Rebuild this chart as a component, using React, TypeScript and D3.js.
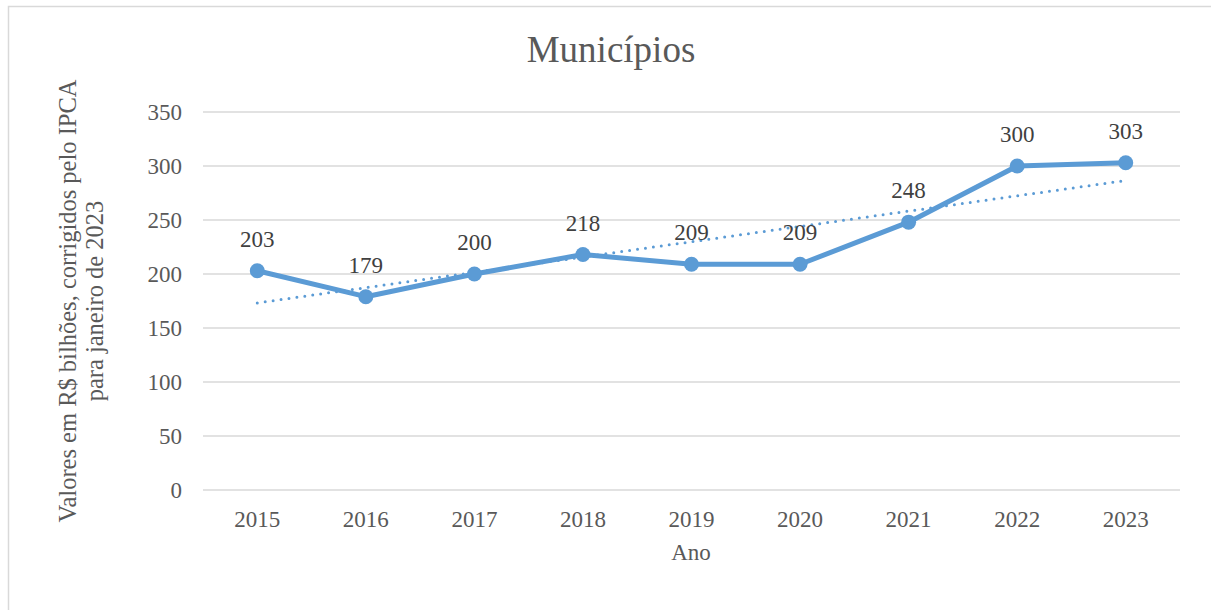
import React, { useRef, useEffect } from "react";
import * as d3 from "d3";

const years = ["2015", "2016", "2017", "2018", "2019", "2020", "2021", "2022", "2023"];
const values = [203, 179, 200, 218, 209, 209, 248, 300, 303];
const yTicks = [0, 50, 100, 150, 200, 250, 300, 350];

const chartTitle = "Municípios";
const xTitle = "Ano";
const yTitleLines = ["Valores em R$ bilhões, corrigidos pelo IPCA", "para janeiro de 2023"];

const App = () => {
  const container = useRef<SVGSVGElement | null>(null);

  useEffect(() => {
    const width = 1211;
    const height = 610;
    const plot = { l: 203, r: 1180, t: 112, b: 490 };
    const font = "'Liberation Serif', 'Times New Roman', serif";
    const blue = "#5B9BD5";

    const svg = d3.select(container.current);
    svg.selectAll("*").remove();
    svg.attr("width", width).attr("height", height);

    svg
      .append("rect")
      .attr("x", 8.5)
      .attr("y", 6.5)
      .attr("width", width + 10)
      .attr("height", height + 10)
      .attr("fill", "white")
      .attr("stroke", "#d9d9d9")
      .attr("stroke-width", 1.5);

    const x = d3.scaleBand().domain(years).range([plot.l, plot.r]);
    const y = d3.scaleLinear().domain([0, 350]).range([plot.b, plot.t]);
    const cx = (i: number) => (x(years[i]) as number) + x.bandwidth() / 2;

    // gridlines
    svg
      .append("g")
      .selectAll("line")
      .data(yTicks)
      .join("line")
      .attr("x1", plot.l)
      .attr("x2", plot.r)
      .attr("y1", (d) => y(d))
      .attr("y2", (d) => y(d))
      .attr("stroke", "#d9d9d9")
      .attr("stroke-width", 1.5);

    // y tick labels
    svg
      .append("g")
      .selectAll("text")
      .data(yTicks)
      .join("text")
      .attr("x", 182)
      .attr("y", (d) => y(d))
      .attr("dy", "0.35em")
      .attr("text-anchor", "end")
      .attr("font-family", font)
      .attr("font-size", 23)
      .attr("fill", "#595959")
      .text((d) => d);

    // x tick labels
    svg
      .append("g")
      .selectAll("text")
      .data(years)
      .join("text")
      .attr("x", (d, i) => cx(i))
      .attr("y", 527)
      .attr("text-anchor", "middle")
      .attr("font-family", font)
      .attr("font-size", 23)
      .attr("fill", "#595959")
      .text((d) => d);

    // trend line (linear least squares)
    const n = values.length;
    const mx = d3.mean(values.map((_, i) => i)) as number;
    const my = d3.mean(values) as number;
    const sxy = d3.sum(values, (v, i) => (i - mx) * (v - my));
    const sxx = d3.sum(values, (_, i) => (i - mx) * (i - mx));
    const slope = sxy / sxx;
    const icpt = my - slope * mx;
    const trend = [0, n - 1].map((i) => [cx(i), y(icpt + slope * i)] as [number, number]);

    svg
      .append("path")
      .attr("d", d3.line()(trend))
      .attr("fill", "none")
      .attr("stroke", blue)
      .attr("stroke-width", 3)
      .attr("stroke-linecap", "round")
      .attr("stroke-dasharray", "0 8");

    // data line
    const pts = values.map((v, i) => [cx(i), y(v)] as [number, number]);
    svg
      .append("path")
      .attr("d", d3.line()(pts))
      .attr("fill", "none")
      .attr("stroke", blue)
      .attr("stroke-width", 5)
      .attr("stroke-linejoin", "round");

    svg
      .append("g")
      .selectAll("circle")
      .data(pts)
      .join("circle")
      .attr("cx", (d) => d[0])
      .attr("cy", (d) => d[1])
      .attr("r", 7.5)
      .attr("fill", blue);

    // data labels
    svg
      .append("g")
      .selectAll("text")
      .data(values)
      .join("text")
      .attr("x", (d, i) => cx(i))
      .attr("y", (d) => y(d) - 24)
      .attr("text-anchor", "middle")
      .attr("font-family", font)
      .attr("font-size", 23)
      .attr("fill", "#404040")
      .text((d) => d);

    // title
    svg
      .append("text")
      .attr("x", 611)
      .attr("y", 62)
      .attr("text-anchor", "middle")
      .attr("font-family", font)
      .attr("font-size", 37)
      .attr("fill", "#595959")
      .text(chartTitle);

    // x axis title
    svg
      .append("text")
      .attr("x", 691)
      .attr("y", 560)
      .attr("text-anchor", "middle")
      .attr("font-family", font)
      .attr("font-size", 23)
      .attr("fill", "#595959")
      .text(xTitle);

    // y axis title
    const yt = svg
      .append("text")
      .attr("transform", `translate(76, ${(plot.t + plot.b) / 2}) rotate(-90)`)
      .attr("text-anchor", "middle")
      .attr("font-family", font)
      .attr("font-size", 24.5)
      .attr("fill", "#595959");
    yTitleLines.forEach((line, i) => {
      yt.append("tspan")
        .attr("x", 0)
        .attr("dy", i === 0 ? 0 : 27)
        .text(line);
    });
  }, []);

  return (
    <svg
      ref={container}
      style={{ position: "absolute", left: 0, top: 0, display: "block" }}
    ></svg>
  );
};

export default App;
